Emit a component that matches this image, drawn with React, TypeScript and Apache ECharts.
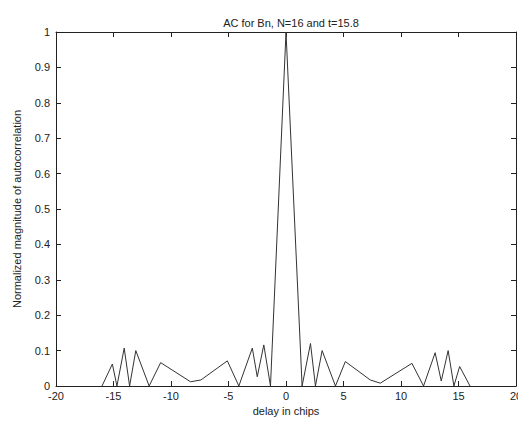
import React, { useEffect, useRef } from "react";
import * as echarts from "echarts";

// Autocorrelation magnitude vs. delay (chips)
const delays: number[] = [
  -16, -15.1, -14.7, -14.07, -13.6, -13.06, -11.9, -10.9, -8.3, -7.4, -5.1, -4.1,
  -2.93, -2.5, -1.93, -1.35, 0, 1.4, 2.13, 2.56, 3.14, 4.3, 5.16, 7.33, 8.2, 10.95,
  11.96, 12.97, 13.5, 14.1, 14.6, 15.1, 16,
];
const magnitudes: number[] = [
  0, 0.062, 0, 0.107, 0, 0.1, 0, 0.066, 0.012, 0.017, 0.071, 0,
  0.107, 0.026, 0.116, 0, 1.0, 0, 0.12, 0, 0.1, 0, 0.069, 0.017, 0.008, 0.064,
  0, 0.094, 0.014, 0.1, 0, 0.055, 0,
];
const xTicks: number[] = [-20, -15, -10, -5, 0, 5, 10, 15, 20];
const yTicks: string[] = ["0", "0.1", "0.2", "0.3", "0.4", "0.5", "0.6", "0.7", "0.8", "0.9", "1"];

const FONT = "Liberation Sans, Arial, sans-serif";
const INK = "#222";

export default function App() {
  const ref = useRef<HTMLDivElement>(null);

  useEffect(() => {
    if (!ref.current) return;
    const chart = echarts.init(ref.current, undefined, { renderer: "svg" });
    const points = delays.map((d, i) => [d, magnitudes[i]]);
    const axisLine = { show: true, onZero: false, lineStyle: { color: INK, width: 1 } };
    const tick = { show: true, inside: true, length: 5, lineStyle: { color: INK } };
    chart.setOption({
      animation: false,
      backgroundColor: "#fff",
      title: {
        text: "AC for Bn, N=16 and t=15.8",
        left: 286,
        textAlign: "center",
        top: 12,
        textStyle: { fontFamily: FONT, fontSize: 11, fontWeight: "normal", color: INK },
      },
      grid: { left: 56, right: 10, top: 32, bottom: 42 },
      xAxis: [
        {
          type: "value",
          min: xTicks[0],
          max: xTicks[xTicks.length - 1],
          interval: 5,
          position: "bottom",
          axisLine,
          axisTick: tick,
          splitLine: { show: false },
          axisLabel: { fontFamily: FONT, fontSize: 11, color: INK, margin: 4 },
          name: "delay in chips",
          nameLocation: "middle",
          nameGap: 18,
          nameTextStyle: { fontFamily: FONT, fontSize: 11, color: INK },
        },
        {
          type: "value",
          min: xTicks[0],
          max: xTicks[xTicks.length - 1],
          interval: 5,
          position: "top",
          axisLine,
          axisTick: tick,
          splitLine: { show: false },
          axisLabel: { show: false },
        },
      ],
      yAxis: [
        {
          type: "value",
          min: 0,
          max: 1,
          interval: 0.1,
          position: "left",
          axisLine,
          axisTick: tick,
          splitLine: { show: false },
          axisLabel: {
            fontFamily: FONT,
            fontSize: 11,
            color: INK,
            margin: 6,
            formatter: (v: number) => yTicks[Math.round(v * 10)] ?? "",
          },
          name: "Normalized magnitude of autocorrelation",
          nameLocation: "middle",
          nameGap: 34,
          nameTextStyle: { fontFamily: FONT, fontSize: 11, color: INK },
        },
        {
          type: "value",
          min: 0,
          max: 1,
          interval: 0.1,
          position: "right",
          axisLine,
          axisTick: tick,
          splitLine: { show: false },
          axisLabel: { show: false },
        },
      ],
      series: [
        {
          type: "line",
          data: points,
          xAxisIndex: 0,
          yAxisIndex: 0,
          showSymbol: false,
          lineStyle: { color: "#333", width: 1 },
        },
      ],
    });
    return () => chart.dispose();
  }, []);

  return <div ref={ref} style={{ width: 526, height: 428, margin: -8 }} />;
}
